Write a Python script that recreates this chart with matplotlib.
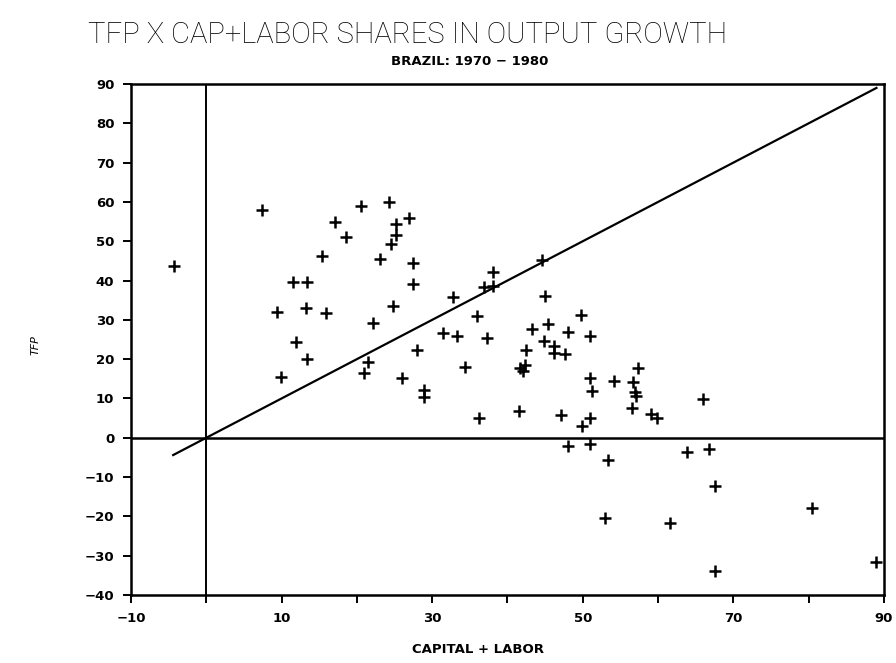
import matplotlib
matplotlib.use("Agg")
import matplotlib.pyplot as plt
import numpy as np

# data (capital+labor share, TFP share)
cap_labor = [-4.3, 7.4, 9.4, 9.9, 11.5, 11.9, 13.4, 13.2, 13.4, 15.3,
             15.9, 17.1, 18.6, 20.6, 21.0, 21.5, 22.2, 23.1, 24.2, 24.5,
             25.2, 25.2, 24.8, 26.9, 26.0, 27.5, 27.4, 28.0, 28.9, 28.9,
             31.5, 32.7, 33.3, 34.4, 35.9, 36.2, 36.9, 37.3, 38.1, 38.1,
             41.5, 41.6, 42.0, 42.3, 42.5, 43.2, 44.6, 45.0, 45.4, 44.8,
             46.2, 46.2, 47.6, 48.0, 47.1, 48.0, 49.8, 49.9, 51.0, 51.0,
             51.2, 51.0, 50.9, 52.9, 53.4, 54.2, 56.5, 56.7, 56.9, 57.0,
             57.3, 59.1, 59.8, 61.6, 63.8, 65.9, 66.8, 67.5, 67.5, 80.4,
             89.0]
tfp = [43.7, 58.0, 32.1, 15.4, 39.5, 24.4, 39.5, 32.9, 20.1, 46.2,
       31.7, 54.8, 51.2, 58.9, 16.6, 19.2, 29.3, 45.5, 60.1, 49.3,
       54.3, 51.6, 33.4, 56.0, 15.1, 39.2, 44.5, 22.4, 12.2, 10.3,
       26.6, 35.8, 25.9, 18.0, 31.1, 5.0, 38.4, 25.5, 42.2, 38.6,
       6.7, 17.8, 17.0, 18.6, 22.2, 27.6, 45.2, 36.0, 29.0, 24.7,
       23.3, 21.6, 21.3, 26.8, 5.8, -2.2, 31.3, 3.1, 25.9, 15.1,
       11.9, 5.1, -1.5, -20.4, -5.6, 14.5, 7.5, 14.1, 11.7, 10.5,
       17.8, 6.1, 5.0, -21.6, -3.6, 9.9, -2.9, -12.4, -33.9, -17.8,
       -31.6]
diag_ends = [-4.4, 89.0]
x_ticks = list(range(-10, 91, 10))
x_labels = ['\u221210', '', '10', '', '30', '', '50', '', '70', '', '90']
y_ticks = list(range(-40, 91, 10))
y_labels = [str(v).replace('-', '\u2212') for v in y_ticks]

fig = plt.figure(figsize=(8.96, 6.63), dpi=100)
ax = fig.add_axes([0.1462, 0.1026, 0.8404, 0.7707])

ax.plot(cap_labor, tfp, linestyle='none', marker='+', color='black',
        markersize=9, markeredgewidth=1.8)
ax.plot(diag_ends, diag_ends, color='black', linewidth=1.6)
ax.axhline(0, color='black', linewidth=1.8)
ax.axvline(0, color='black', linewidth=1.4)

ax.set_xlim(-10, 90)
ax.set_ylim(-40, 90)
ax.set_xticks(x_ticks)
ax.set_xticklabels(x_labels)
ax.set_yticks(y_ticks)
ax.set_yticklabels(y_labels)
ax.tick_params(direction='out', length=6, width=1.4, labelsize=9.5,
               colors='black', pad=6)
for lab in ax.get_xticklabels() + ax.get_yticklabels():
    lab.set_fontweight('bold')
for s in ax.spines.values():
    s.set_linewidth(1.8)

fig.text(0.455, 0.947, 'TFP X CAP+LABOR SHARES IN OUTPUT GROWTH',
         ha='center', va='center', fontsize=21, fontweight='light',
         family=['Roboto', 'DejaVu Sans'])
fig.text(0.524, 0.907, 'BRAZIL: 1970 \u2212 1980', ha='center', va='center',
         fontsize=9.5, fontweight='bold')
fig.text(0.533, 0.02, 'CAPITAL + LABOR', ha='center', va='center',
         fontsize=9.5, fontweight='bold')
fig.text(0.04, 0.48, 'TFP', ha='center', va='center', rotation=90,
         fontsize=8, style='italic')

fig.savefig('out.png', dpi=100)
